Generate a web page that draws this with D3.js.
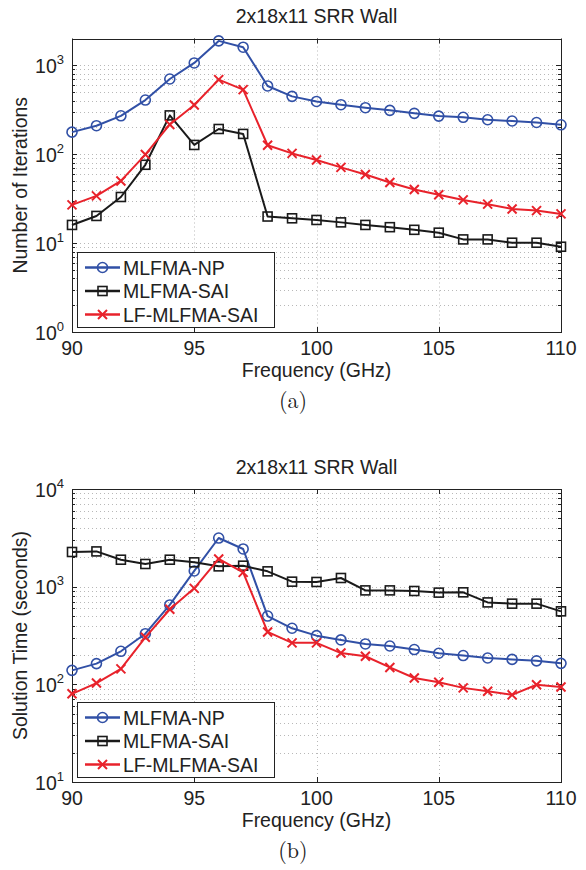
<!DOCTYPE html>
<html>
<head>
<meta charset="utf-8">
<script src="https://cdn.jsdelivr.net/npm/d3@7"></script>
<style>
    body { margin: 0; background: #fff; }
    svg text { font-family: "Liberation Sans", Arial, sans-serif; fill: #222; }
</style>
</head>
<body>
<svg id="fig" width="586" height="870"></svg>
<script>
// frequency points (GHz)
const freq = [90, 91, 92, 93, 94, 95, 96, 97, 98, 99, 100, 101, 102, 103, 104, 105, 106, 107, 108, 109, 110]
const xTicks = [90, 95, 100, 105, 110]
const seriesNames = ['MLFMA-NP', 'MLFMA-SAI', 'LF-MLFMA-SAI']

// (a) number of iterations
const iterNP = [177, 209, 270, 406, 701, 1062, 1880, 1596, 585, 447, 392, 360, 333, 311, 288, 268, 260, 244, 236, 227, 214]
const iterSAI = [16, 20.2, 33, 76, 273, 127, 192, 169, 19.9, 19, 18.2, 17.1, 16, 15.1, 14.1, 13.1, 11, 11, 10.1, 10.1, 9.1]
const iterLF = [26.9, 34, 50, 99, 216, 357, 689, 532, 126, 102, 86, 71, 59, 48, 40, 35, 30.6, 27.4, 24.2, 23.2, 21.3]

// (b) solution time (seconds)
const timeNP = [139, 163, 218, 330, 650, 1449, 3148, 2432, 500, 375, 315, 285, 259, 247, 227, 208, 197, 186, 180, 174, 164]
const timeSAI = [2265, 2296, 1888, 1707, 1888, 1774, 1614, 1640, 1435, 1125, 1117, 1227, 916, 916, 903, 869, 875, 690, 670, 670, 559]
const timeLF = [80, 103, 144, 303, 587, 961, 1923, 1400, 344, 266, 266, 209, 194, 149, 116, 105, 92, 85, 78, 99, 94]

const COLORS = ['#3150a6', '#1a1a1a', '#e8222b']
const MARKERS = ['circle', 'square', 'cross']

const PLOT = { left: 72, right: 561 }

const panels = [
    {
        top: 38.5, bottom: 332, domain: [1, 2000],
        title: '2x18x11 SRR Wall', ylabel: 'Number of Iterations', caption: '(a)',
        data: [iterNP, iterSAI, iterLF]
    },
    {
        top: 489, bottom: 782, domain: [10, 10000],
        title: '2x18x11 SRR Wall', ylabel: 'Solution Time (seconds)', caption: '(b)',
        data: [timeNP, timeSAI, timeLF]
    }
]

const $svg = d3.select('#fig')

function drawMarker(g, type, color, x, y) {
    if (type === 'circle') {
        g.append('circle').attr('cx', x).attr('cy', y).attr('r', 5)
            .attr('fill', 'none').attr('stroke', color).attr('stroke-width', 1.6)
    } else if (type === 'square') {
        g.append('rect').attr('x', x - 4.5).attr('y', y - 4.5).attr('width', 9).attr('height', 9)
            .attr('fill', 'none').attr('stroke', color).attr('stroke-width', 1.6)
    } else {
        g.append('path').attr('d', `M${x - 4.5},${y - 4.5}L${x + 4.5},${y + 4.5}M${x - 4.5},${y + 4.5}L${x + 4.5},${y - 4.5}`)
            .attr('stroke', color).attr('stroke-width', 2)
    }
}

function drawPanel(p) {
    const g = $svg.append('g')
    const xScale = d3.scaleLinear().domain([freq[0], freq[freq.length - 1]]).range([PLOT.left, PLOT.right])
    const yScale = d3.scaleLog().domain(p.domain).range([p.bottom, p.top])

    // log ticks
    const lo = Math.round(Math.log10(p.domain[0])), hi = Math.floor(Math.log10(p.domain[1]))
    const major = [], minor = []
    for (let e = lo; e <= hi + 1; e++) {
        const base = Math.pow(10, e)
        if (base <= p.domain[1] * 1.0001) major.push(base)
        for (let k = 2; k <= 9; k++) {
            const v = k * base
            if (v < p.domain[1] * 0.999) minor.push(v)
        }
    }

    // grid
    const grid = g.append('g').attr('stroke', '#b8b8b8').attr('stroke-width', 1).attr('stroke-dasharray', '1,3')
    major.concat(minor).forEach(v => {
        const y = Math.round(yScale(v)) + 0.5
        grid.append('line').attr('x1', PLOT.left).attr('x2', PLOT.right).attr('y1', y).attr('y2', y)
    })
    xTicks.slice(1, -1).forEach(v => {
        const x = Math.round(xScale(v)) + 0.5
        grid.append('line').attr('x1', x).attr('x2', x).attr('y1', p.top).attr('y2', p.bottom)
    })

    // ticks (inward, both sides)
    const tk = g.append('g').attr('stroke', '#222').attr('stroke-width', 1)
    major.forEach(v => {
        const y = Math.round(yScale(v)) + 0.5
        tk.append('line').attr('x1', PLOT.left).attr('x2', PLOT.left + 5).attr('y1', y).attr('y2', y)
        tk.append('line').attr('x1', PLOT.right).attr('x2', PLOT.right - 5).attr('y1', y).attr('y2', y)
    })
    minor.forEach(v => {
        const y = Math.round(yScale(v)) + 0.5
        tk.append('line').attr('x1', PLOT.left).attr('x2', PLOT.left + 3).attr('y1', y).attr('y2', y)
        tk.append('line').attr('x1', PLOT.right).attr('x2', PLOT.right - 3).attr('y1', y).attr('y2', y)
    })
    xTicks.forEach(v => {
        const x = Math.round(xScale(v)) + 0.5
        tk.append('line').attr('x1', x).attr('x2', x).attr('y1', p.bottom).attr('y2', p.bottom - 5)
        tk.append('line').attr('x1', x).attr('x2', x).attr('y1', p.top).attr('y2', p.top + 5)
    })

    // frame
    g.append('rect').attr('x', PLOT.left + 0.5).attr('y', Math.round(p.top) + 0.5)
        .attr('width', PLOT.right - PLOT.left).attr('height', Math.round(p.bottom) - Math.round(p.top))
        .attr('fill', 'none').attr('stroke', '#222').attr('stroke-width', 1)

    // y tick labels 10^n
    major.forEach(v => {
        const t = g.append('text').attr('x', PLOT.left - 8).attr('y', yScale(v) + 7.5)
            .attr('text-anchor', 'end').style('font-size', '19.5px')
        t.append('tspan').text('10')
        t.append('tspan').attr('dy', -9).style('font-size', '13px').text(Math.round(Math.log10(v)))
    })

    // x tick labels
    xTicks.forEach(v => {
        g.append('text').attr('x', xScale(v)).attr('y', p.bottom + 23)
            .attr('text-anchor', 'middle').style('font-size', '19.5px').text(v)
    })

    // titles
    g.append('text').attr('x', (PLOT.left + PLOT.right) / 2).attr('y', p.top - 15.5)
        .attr('text-anchor', 'middle').style('font-size', '19.5px').text(p.title)
    g.append('text').attr('x', (PLOT.left + PLOT.right) / 2).attr('y', p.bottom + 44.5)
        .attr('text-anchor', 'middle').style('font-size', '19.5px').text('Frequency (GHz)')
    g.append('text')
        .attr('transform', `translate(27, ${(p.top + p.bottom) / 2}) rotate(-90)`)
        .attr('text-anchor', 'middle').style('font-size', '19.5px').text(p.ylabel)
    g.append('text').attr('x', 293).attr('y', p.bottom + 76)
        .attr('text-anchor', 'middle')
        .style('font-family', '"Latin Modern Roman", "DejaVu Serif", "Liberation Serif", serif')
        .style('font-size', '22px').text(p.caption)

    // series
    const lineGen = d3.line()
        .x((d, i) => xScale(freq[i]))
        .y(d => yScale(d))
    p.data.forEach((vals, si) => {
        const sg = g.append('g')
        sg.append('path').datum(vals).attr('d', lineGen)
            .attr('fill', 'none').attr('stroke', COLORS[si]).attr('stroke-width', 2)
            .attr('stroke-linejoin', 'round')
        vals.forEach((v, i) => drawMarker(sg, MARKERS[si], COLORS[si], xScale(freq[i]), yScale(v)))
    })

    // legend
    const lgTop = p.bottom - 80.5
    const lg = g.append('g')
    lg.append('rect').attr('x', 77.5).attr('y', Math.round(lgTop) + 0.5).attr('width', 197).attr('height', 75)
        .attr('fill', '#fff').attr('stroke', '#222').attr('stroke-width', 1)
    seriesNames.forEach((name, si) => {
        const cy = lgTop + 16 + si * 23.5
        lg.append('line').attr('x1', 85).attr('x2', 120).attr('y1', cy).attr('y2', cy)
            .attr('stroke', COLORS[si]).attr('stroke-width', 2.5)
        drawMarker(lg, MARKERS[si], COLORS[si], 102.5, cy)
        lg.append('text').attr('x', 123).attr('y', cy + 7).style('font-size', '19.5px').text(name)
    })
}

panels.forEach(drawPanel)
</script>
</body>
</html>
